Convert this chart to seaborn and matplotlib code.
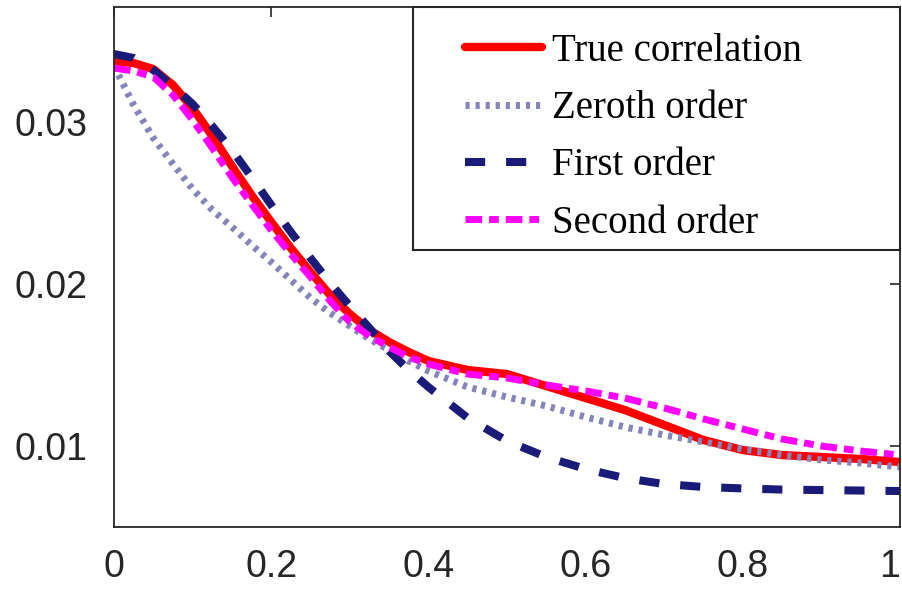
import matplotlib
matplotlib.use("Agg")
import matplotlib.pyplot as plt
from matplotlib.patches import Rectangle
import pandas as pd
import seaborn as sns

# Sample positions (denser where the curves bend most)
x = [0.0, 0.025, 0.05, 0.075, 0.1, 0.125, 0.15, 0.175, 0.2, 0.225, 0.25,
     0.275, 0.3, 0.325, 0.35, 0.375, 0.4, 0.45, 0.5, 0.55, 0.6, 0.65,
     0.7, 0.75, 0.8, 0.85, 0.9, 0.95, 1.0]

# Correlation curves
true_corr = [0.03377, 0.03364, 0.03327, 0.03228, 0.03086, 0.02914, 0.02728,
             0.02549, 0.02383, 0.02222, 0.02074, 0.01932, 0.01815, 0.01716,
             0.01642, 0.01580, 0.01525, 0.01469, 0.01444, 0.01370, 0.01296,
             0.01222, 0.01130, 0.01037, 0.00975, 0.00944, 0.00932, 0.00920,
             0.00901]
zeroth = [0.03346, 0.03105, 0.02901, 0.02741, 0.02586, 0.02457, 0.02352,
          0.02241, 0.02136, 0.02025, 0.01914, 0.01821, 0.01741, 0.01660,
          0.01593, 0.01525, 0.01463, 0.01364, 0.01302, 0.01247, 0.01179,
          0.01117, 0.01068, 0.01025, 0.00981, 0.00944, 0.00914, 0.00895,
          0.00870]
first = [0.03420, 0.03395, 0.03321, 0.03222, 0.03111, 0.02975, 0.02827,
         0.02660, 0.02488, 0.02321, 0.02160, 0.02006, 0.01864, 0.01728,
         0.01586, 0.01469, 0.01364, 0.01173, 0.01031, 0.00932, 0.00858,
         0.00802, 0.00765, 0.00747, 0.00738, 0.00731, 0.00728, 0.00725,
         0.00722]
second = [0.03333, 0.03315, 0.03278, 0.03167, 0.03012, 0.02840, 0.02660,
          0.02494, 0.02333, 0.02185, 0.02043, 0.01895, 0.01765, 0.01679,
          0.01611, 0.01549, 0.01506, 0.01444, 0.01420, 0.01377, 0.01340,
          0.01296, 0.01235, 0.01167, 0.01105, 0.01043, 0.01000, 0.00969,
          0.00944]

labels = ["True correlation", "Zeroth order", "First order", "Second order"]
xticks = [0, 0.2, 0.4, 0.6, 0.8, 1]
xtick_labels = ["0", "0.2", "0.4", "0.6", "0.8", "1"]
yticks = [0.01, 0.02, 0.03]
ytick_labels = ["0.01", "0.02", "0.03"]

sns.set_theme(style="white")
plt.rcParams["font.family"] = ["Liberation Sans", "DejaVu Sans"]

fig = plt.figure(figsize=(9.02, 5.89), dpi=100)
ax = fig.add_axes([114 / 902, 1 - 527 / 589, 786 / 902, 520 / 589])

styles = [
    dict(color="#ff0000", lw=6.0, linestyle="-"),
    dict(color="#8585bb", lw=5.0, linestyle=(0, (0.6, 0.85))),
    dict(color="#1a1a78", lw=5.8, linestyle=(0, (2.5, 2.6))),
    dict(color="#ff00ff", lw=5.0, linestyle=(0, (2.4, 1.0, 1.4, 1.0))),
]
series = [true_corr, zeroth, first, second]

for vals, lab, st in zip(series, labels, styles):
    df = pd.DataFrame({"x": x, "y": vals})
    sns.lineplot(data=df, x="x", y="y", ax=ax, label=lab,
                 color=st["color"], linewidth=st["lw"],
                 linestyle=st["linestyle"], dash_capstyle="butt",
                 solid_joinstyle="round")

ax.set_xlim(0, 1)
ax.set_ylim(0.005, 0.0371)
ax.set_xticks(xticks)
ax.set_xticklabels(xtick_labels)
ax.set_yticks(yticks)
ax.set_yticklabels(ytick_labels)
ax.set_xlabel("")
ax.set_ylabel("")
# keep the last x label inside the figure edge
ax.get_xticklabels()[-1].set_horizontalalignment("right")

for sp in ax.spines.values():
    sp.set_visible(True)
    sp.set_color("#262626")
    sp.set_linewidth(1.3)

ax.tick_params(axis="both", which="both", direction="in", length=7,
               width=1.2, color="#262626", labelcolor="#262626",
               labelsize=27, top=True, right=True)
ax.tick_params(axis="x", pad=16)
ax.tick_params(axis="y", pad=19)

# Legend box
ax.add_patch(Rectangle(((413 - 114) / 786, (527 - 250) / 520),
                       1 - (413 - 114) / 786, 243 / 520,
                       transform=ax.transAxes, facecolor="white",
                       edgecolor="#262626", lw=1.5, zorder=4, clip_on=False))
leg = ax.legend(loc="upper left", bbox_to_anchor=((465 - 114) / 786, (527 - 33) / 520),
                frameon=False, borderpad=0, borderaxespad=0,
                handlelength=1.98, handletextpad=0.26, labelspacing=0.52,
                prop={"family": "Liberation Serif", "size": 28})
leg.set_zorder(5)
for t in leg.get_texts():
    t.set_color("black")

fig.savefig("out.png", dpi=100)
